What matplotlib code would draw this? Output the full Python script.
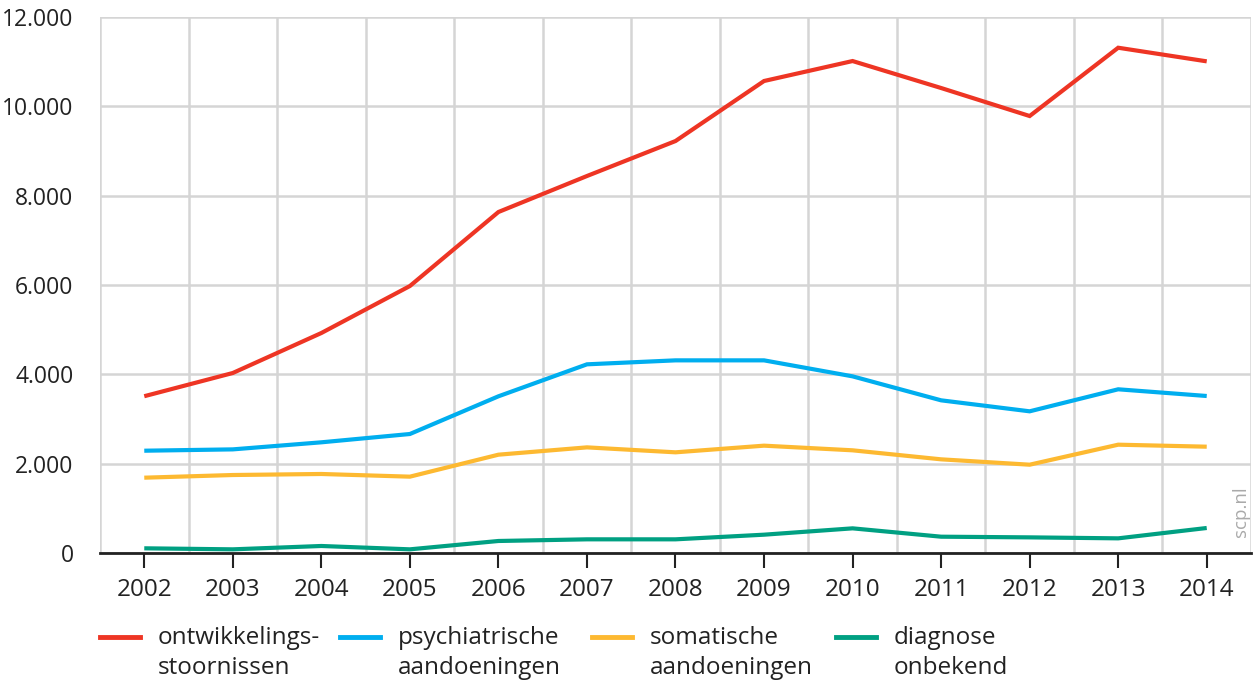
import matplotlib
matplotlib.use("Agg")
import matplotlib.pyplot as plt
from matplotlib.lines import Line2D
from matplotlib.ticker import FuncFormatter, FixedLocator

plt.rcParams['font.family'] = ['Open Sans', 'DejaVu Sans']

years = [2002, 2003, 2004, 2005, 2006, 2007, 2008, 2009, 2010, 2011, 2012, 2013, 2014]
ontwikkelingsstoornissen = [3510, 4030, 4925, 5977, 7634, 8440, 9223, 10567, 11014, 10410, 9783, 11312, 11007]
psychiatrische = [2290, 2320, 2478, 2664, 3508, 4224, 4313, 4313, 3955, 3418, 3172, 3665, 3515]
somatische = [1686, 1746, 1769, 1709, 2201, 2365, 2254, 2403, 2299, 2097, 1977, 2425, 2380]
onbekend = [105, 82, 157, 82, 269, 306, 306, 410, 552, 365, 350, 328, 560]

series_labels = ["ontwikkelings-\nstoornissen", "psychiatrische\naandoeningen",
                 "somatische\naandoeningen", "diagnose\nonbekend"]
colors = ["#EE3524", "#00AEEF", "#FDB931", "#00A082"]
y_ticks = [0, 2000, 4000, 6000, 8000, 10000, 12000]

fig = plt.figure(figsize=(12.53, 6.84), dpi=100)
ax = fig.add_axes([100/1253, 1-553/684, 1151/1253, 536/684])

for vals, c in zip([ontwikkelingsstoornissen, psychiatrische, somatische, onbekend], colors):
    ax.plot(years, vals, color=c, lw=3, solid_capstyle='butt', solid_joinstyle='miter', zorder=3)

ax.set_xlim(years[0]-0.5, years[-1]+0.5)
ax.set_ylim(0, 12000)
ax.set_xticks(years)
ax.set_xticklabels([str(y) for y in years])
ax.xaxis.set_minor_locator(FixedLocator([y-0.5 for y in years] + [years[-1]+0.5]))
ax.set_yticks(y_ticks)
ax.yaxis.set_major_formatter(FuncFormatter(lambda v, p: f"{int(v):,}".replace(",", ".")))

ax.grid(True, which='minor', axis='x', color='#D5D5D5', lw=1.8)
ax.grid(True, which='major', axis='y', color='#D5D5D5', lw=1.8)
ax.set_axisbelow(True)

for s in ['top', 'right', 'left']:
    ax.spines[s].set_visible(False)
ax.spines['bottom'].set_color('#222222')
ax.spines['bottom'].set_linewidth(2)
ax.spines['bottom'].set_zorder(4)

ax.tick_params(axis='x', which='major', direction='out', length=11, width=1.5, color='#222222',
               labelsize=17.5, labelcolor='#222222', pad=7)
ax.tick_params(axis='x', which='minor', length=0)
ax.tick_params(axis='y', length=0, labelsize=16.5, labelcolor='#222222', pad=19)

ax.text(1241/1253, 1-512/684, "scp.nl", transform=fig.transFigure, rotation=90,
        color='#AAAAAA', fontsize=13.5, ha='center', va='center')

# legend
leg_x = [100, 340, 592, 836]
for x, lab, c in zip(leg_x, series_labels, colors):
    fig.add_artist(Line2D([x/1253, (x+40)/1253], [1-637/684]*2, color=c, lw=3.5,
                          transform=fig.transFigure))
    fig.text((x+58)/1253, 1-653/684, lab, fontsize=17.5, color='#222222', va='center', ha='left',
             linespacing=1.3)

fig.savefig("out.png", dpi=100)
